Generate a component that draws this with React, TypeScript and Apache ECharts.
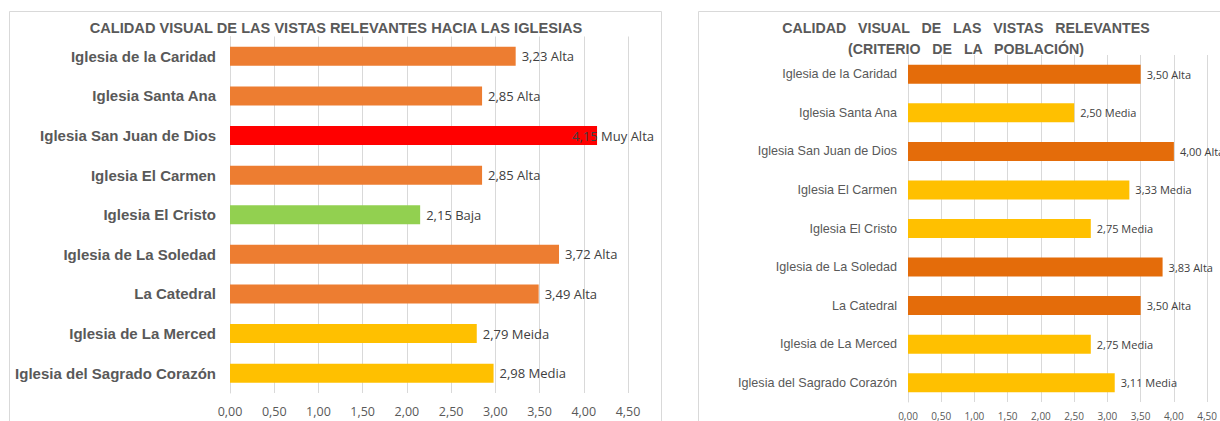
import React, { useEffect, useRef } from "react";
import * as echarts from "echarts";

const leftTitle = "CALIDAD VISUAL DE LAS VISTAS RELEVANTES HACIA LAS IGLESIAS";
const leftCategories = [
  "Iglesia de la Caridad",
  "Iglesia Santa Ana",
  "Iglesia San Juan de Dios",
  "Iglesia El Carmen",
  "Iglesia El Cristo",
  "Iglesia de La Soledad",
  "La Catedral",
  "Iglesia de La Merced",
  "Iglesia del Sagrado Corazón",
];
const leftValues = [3.23, 2.85, 4.15, 2.85, 2.15, 3.72, 3.49, 2.79, 2.98];
const leftRatings = ["Alta", "Alta", "Muy Alta", "Alta", "Baja", "Alta", "Alta", "Meida", "Media"];

const rightTitleLines = ["CALIDAD   VISUAL   DE   LAS   VISTAS   RELEVANTES", "(CRITERIO   DE   LA   POBLACIÓN)"];
const rightCategories = [
  "Iglesia de la Caridad",
  "Iglesia Santa Ana",
  "Iglesia San Juan de Dios",
  "Iglesia El Carmen",
  "Iglesia El Cristo",
  "Iglesia de La Soledad",
  "La Catedral",
  "Iglesia de La Merced",
  "Iglesia del Sagrado Corazón",
];
const rightValues = [3.5, 2.5, 4.0, 3.33, 2.75, 3.83, 3.5, 2.75, 3.11];
const rightRatings = ["Alta", "Media", "Alta", "Media", "Media", "Alta", "Alta", "Media", "Media"];

const leftColorMap: Record<string, string> = {
  "Muy Alta": "#FF0000",
  Alta: "#ED7D31",
  Media: "#FFC000",
  Meida: "#FFC000",
  Baja: "#92D050",
};
const rightColorMap: Record<string, string> = {
  Alta: "#E46C0A",
  Media: "#FFC000",
};

const fmt = (v: number) => v.toFixed(2).replace(".", ",");

export default function App() {
  const ref = useRef<HTMLDivElement>(null);
  useEffect(() => {
    if (!ref.current) return;
    const chart = echarts.init(ref.current, null, { renderer: "svg" });
    const labelFont = "'Open Sans', 'Noto Sans', sans-serif";
    const catFont = "'Liberation Sans', Arial, sans-serif";

    const leftData = leftValues.map((v, i) => {
      const item: any = {
        value: v,
        itemStyle: { color: leftColorMap[leftRatings[i]] },
      };
      if (leftRatings[i] === "Muy Alta") {
        item.label = { offset: [-31, 0] };
      }
      return item;
    });
    const rightData = rightValues.map((v, i) => ({
      value: v,
      itemStyle: { color: rightColorMap[rightRatings[i]] },
    }));

    chart.setOption({
      animation: false,
      backgroundColor: "#ffffff",
      graphic: [
        {
          type: "rect",
          shape: { x: 9.5, y: 11.5, width: 652, height: 420 },
          style: { fill: "none", stroke: "#D9D9D9", lineWidth: 1 },
          silent: true,
          z: -1,
        },
        {
          type: "rect",
          shape: { x: 698.5, y: 11.5, width: 560, height: 420 },
          style: { fill: "none", stroke: "#D9D9D9", lineWidth: 1 },
          silent: true,
          z: -1,
        },
        {
          type: "text",
          x: 336,
          y: 28,
          style: {
            text: leftTitle,
            fill: "#595959",
            font: `bold 14.6px ${catFont}`,
            align: "center",
            verticalAlign: "middle",
          },
        },
        {
          type: "text",
          x: 966,
          y: 28,
          style: {
            text: rightTitleLines[0],
            fill: "#595959",
            font: `bold 14.2px ${catFont}`,
            align: "center",
            verticalAlign: "middle",
          },
        },
        {
          type: "text",
          x: 966,
          y: 49,
          style: {
            text: rightTitleLines[1],
            fill: "#595959",
            font: `bold 14.2px ${catFont}`,
            align: "center",
            verticalAlign: "middle",
          },
        },
      ],
      grid: [
        { left: 230, right: 592, top: 36.5, bottom: 28, containLabel: false },
        { left: 908, right: 12.5, top: 55, bottom: 16, containLabel: false },
      ],
      xAxis: [
        {
          gridIndex: 0,
          type: "value",
          min: 0,
          max: 4.5,
          interval: 0.5,
          axisLine: { show: false },
          axisTick: { show: false },
          splitLine: { lineStyle: { color: "#D9D9D9", width: 1 } },
          axisLabel: {
            formatter: (v: number) => fmt(v),
            color: "#595959",
            fontFamily: labelFont,
            fontSize: 12.5,
            margin: 12,
          },
        },
        {
          gridIndex: 1,
          type: "value",
          min: 0,
          max: 4.5,
          interval: 0.5,
          axisLine: { show: false },
          axisTick: { show: false },
          splitLine: { lineStyle: { color: "#D9D9D9", width: 1 } },
          axisLabel: {
            formatter: (v: number) => fmt(v),
            color: "#595959",
            fontFamily: labelFont,
            fontSize: 10,
            margin: 9,
          },
        },
      ],
      yAxis: [
        {
          gridIndex: 0,
          type: "category",
          inverse: true,
          data: leftCategories,
          axisLine: { show: true, lineStyle: { color: "#D9D9D9" } },
          axisTick: { show: false },
          axisLabel: {
            color: "#595959",
            fontFamily: catFont,
            fontWeight: "bold",
            fontSize: 15,
            margin: 14,
          },
        },
        {
          gridIndex: 1,
          type: "category",
          inverse: true,
          data: rightCategories,
          axisLine: { show: true, lineStyle: { color: "#D9D9D9" } },
          axisTick: { show: false },
          axisLabel: {
            color: "#595959",
            fontFamily: catFont,
            fontSize: 12.6,
            margin: 11,
          },
        },
      ],
      series: [
        {
          type: "bar",
          xAxisIndex: 0,
          yAxisIndex: 0,
          data: leftData,
          barWidth: 19,
          label: {
            show: true,
            position: "right",
            distance: 6,
            color: "#404040",
            fontFamily: labelFont,
            fontSize: 13,
            formatter: (p: any) => `${fmt(p.value)} ${leftRatings[p.dataIndex]}`,
          },
        },
        {
          type: "bar",
          xAxisIndex: 1,
          yAxisIndex: 1,
          data: rightData,
          barWidth: 19,
          label: {
            show: true,
            position: "right",
            distance: 6,
            color: "#404040",
            fontFamily: labelFont,
            fontSize: 11,
            formatter: (p: any) => `${fmt(p.value)} ${rightRatings[p.dataIndex]}`,
          },
        },
      ],
    });
    return () => chart.dispose();
  }, []);
  return (
    <div
      ref={ref}
      style={{ position: "fixed", left: 0, top: 0, width: 1220, height: 421, background: "#fff" }}
    />
  );
}
